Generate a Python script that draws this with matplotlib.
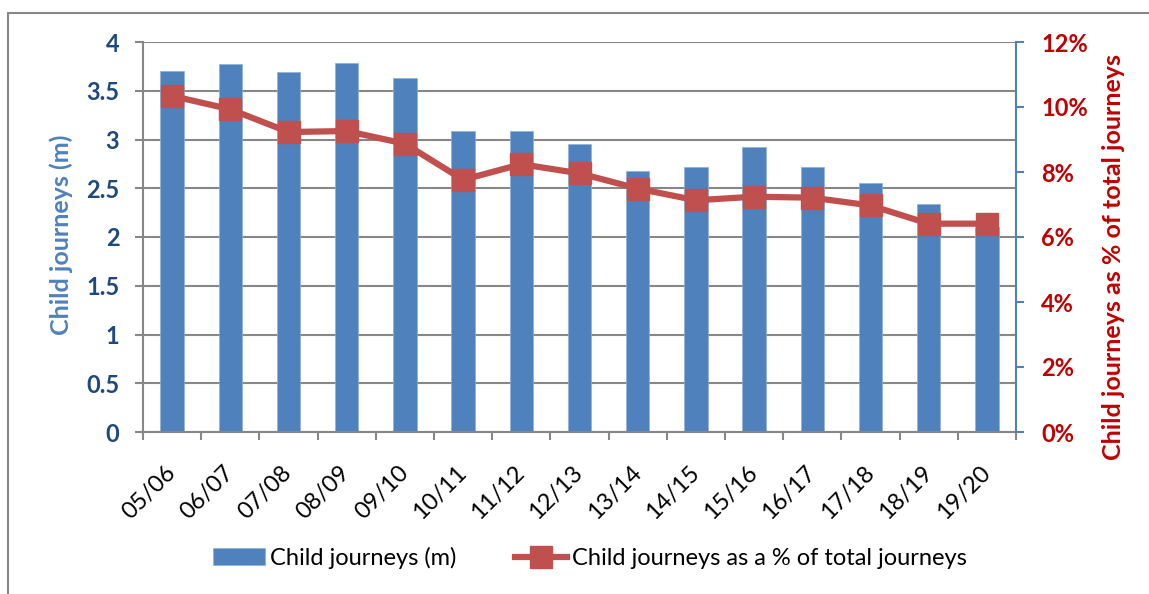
import matplotlib.pyplot as plt
from matplotlib.patches import Rectangle
from matplotlib.ticker import FixedLocator, FuncFormatter

years = ["05/06", "06/07", "07/08", "08/09", "09/10", "10/11", "11/12", "12/13",
         "13/14", "14/15", "15/16", "16/17", "17/18", "18/19", "19/20"]
journeys_m = [3.70, 3.77, 3.69, 3.78, 3.63, 3.09, 3.09, 2.95,
              2.68, 2.72, 2.92, 2.72, 2.55, 2.34, 2.10]
share_pct = [10.34, 9.93, 9.23, 9.26, 8.87, 7.76, 8.24, 7.96,
             7.49, 7.13, 7.24, 7.21, 6.97, 6.41, 6.41]

BLUE = "#4f81bd"
RED = "#c0504d"
GREY = "#878787"
FONT = "Lato"
FS = 17

plt.rcParams["font.family"] = [FONT, "DejaVu Sans"]

fig = plt.figure(figsize=(11.49, 5.94), dpi=100)
# outer chart border
fig.patches.append(Rectangle((8 / 1149, -0.05), 1.2, (594 - 13) / 594 + 0.05,
                             transform=fig.transFigure, fill=False,
                             edgecolor=GREY, linewidth=1.5))

ax = fig.add_axes([143 / 1149, 1 - 432 / 594, (1016 - 143) / 1149, 390 / 594])
x = list(range(len(years)))
bars = ax.bar(x, journeys_m, width=0.4, color=BLUE, edgecolor="#8fb0d8",
              linewidth=0.5, label="Child journeys (m)", zorder=2)

ax.set_xlim(-0.5, len(years) - 0.5)
ax.set_ylim(0, 4)
ax.set_yticks([0, 0.5, 1, 1.5, 2, 2.5, 3, 3.5, 4])
ax.yaxis.set_major_formatter(FuncFormatter(lambda v, p: f"{v:g}"))
ax.set_axisbelow(True)
ax.grid(axis="y", color=GREY, linewidth=1.5)
ax.tick_params(axis="y", length=6, width=1.5, color=GREY, labelsize=FS,
               labelcolor="#1f497d", pad=11)
for lab in ax.get_yticklabels():
    lab.set_fontweight("bold")

ax.set_xticks(x)
ax.set_xticklabels(years, rotation=45, ha="right", va="center",
                   rotation_mode="anchor", fontsize=FS)
ax.xaxis.set_minor_locator(FixedLocator([i - 0.5 for i in range(len(years) + 1)]))
ax.tick_params(axis="x", which="major", length=0, pad=27)
ax.tick_params(axis="x", which="minor", length=6, width=1.5, color=GREY)

for side in ["top", "right"]:
    ax.spines[side].set_visible(False)
for side in ["left", "bottom"]:
    ax.spines[side].set_color(GREY)
    ax.spines[side].set_linewidth(1.5)

ax.set_ylabel("Child journeys (m)", color=BLUE, fontsize=18, fontweight="bold")
ax.yaxis.set_label_coords(-0.08, 0.505)

ax2 = ax.twinx()
line, = ax2.plot(x, share_pct, color=RED, linewidth=4.5, marker="s",
                 markersize=16, markerfacecolor=RED, markeredgecolor=RED,
                 label="Child journeys as a % of total journeys")
ax2.set_ylim(0, 12)
ax2.set_yticks(range(0, 13, 2))
ax2.yaxis.set_major_formatter(FuncFormatter(lambda v, p: f"{v:.0f}%"))
ax2.tick_params(axis="y", length=6, width=1.5, color=BLUE, labelsize=FS,
                labelcolor="#c00000", pad=12)
for lab in ax2.get_yticklabels():
    lab.set_fontweight("bold")
for side in ["top", "left", "bottom"]:
    ax2.spines[side].set_visible(False)
ax2.spines["right"].set_color(BLUE)
ax2.spines["right"].set_linewidth(1.5)
ax2.set_ylabel("Child journeys as % of total journeys", color="#c00000",
               fontsize=18, fontweight="bold")
ax2.yaxis.set_label_coords(1.099, 0.45)

fig.legend(handles=[bars, line], loc="center", ncol=2,
           bbox_to_anchor=(590 / 1149, 1 - 558 / 594), frameon=False,
           fontsize=FS, handlelength=2.2, handleheight=0.75,
           handletextpad=0.2, columnspacing=2.5)

fig.savefig("out.png", dpi=100)
